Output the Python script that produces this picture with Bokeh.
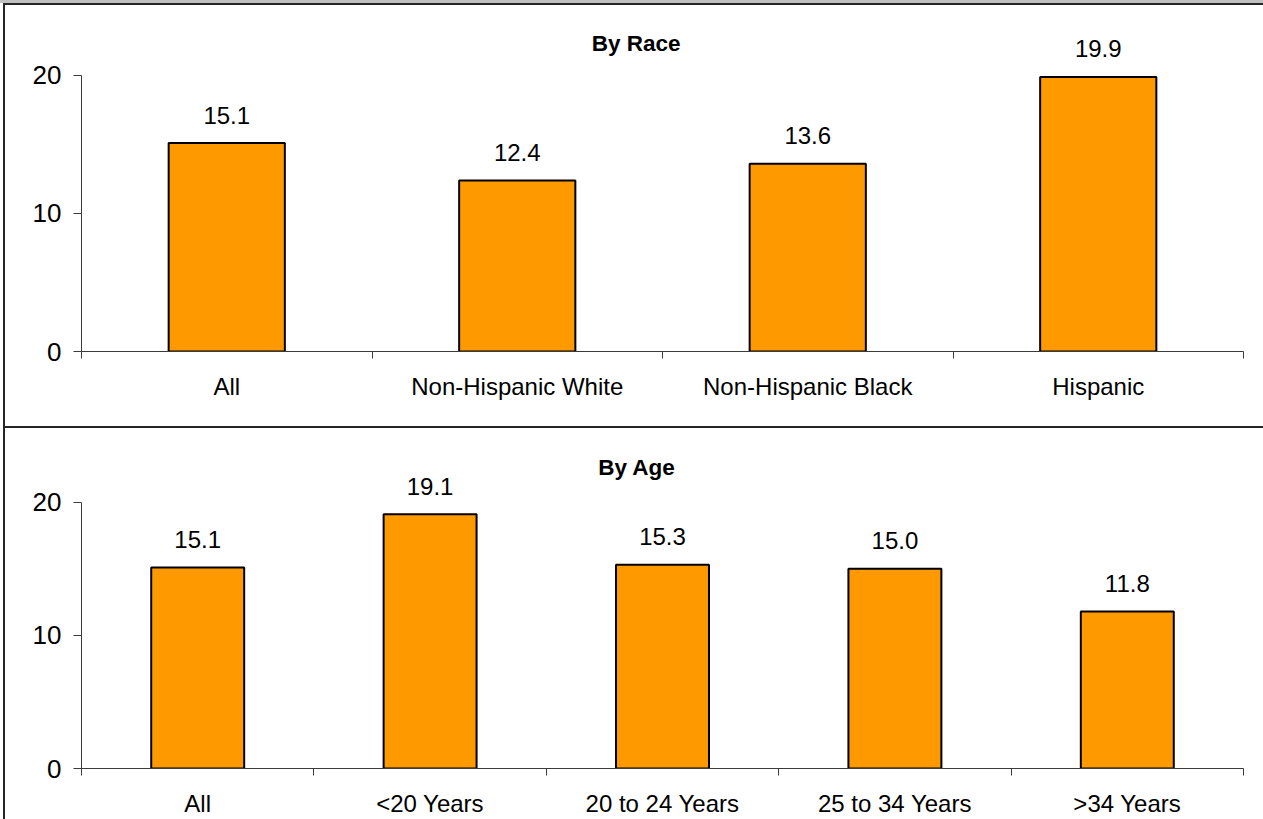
from bokeh.plotting import figure
from bokeh.models import Range1d, FixedTicker, ColumnDataSource, Label, Spacer
from bokeh.layouts import column, row
from bokeh.embed import file_html
from bokeh.resources import INLINE
from bokeh.core.properties import value

# ---- data ----
race_title = "By Race"
race_categories = ["All", "Non-Hispanic White", "Non-Hispanic Black", "Hispanic"]
race_values = [15.1, 12.4, 13.6, 19.9]

age_title = "By Age"
age_categories = ["All", "<20 Years", "20 to 24 Years", "25 to 34 Years", ">34 Years"]
age_values = [15.1, 19.1, 15.3, 15.0, 11.8]

y_ticks = [0, 10, 20]

FONT = "Liberation Sans"
BAR_COLOR = "#FF9900"
AXIS_COLOR = "#3a3a3a"
BORDER_COLOR = "#262626"
BAND_COLOR = "#c0c0c0"
FIG_W = 1258


def make_panel(title, cats, vals, height, b_top, b_bottom, y_end, title_x, title_y):
    n = len(cats)
    centers = [i + 0.5 for i in range(n)]
    src = ColumnDataSource(dict(x=centers, top=vals, label=[f"{v:.1f}" for v in vals]))
    p = figure(width=FIG_W, height=height, x_range=Range1d(0, n), y_range=Range1d(0, y_end),
               output_backend="svg", toolbar_location=None,
               min_border_left=76, min_border_right=20,
               min_border_top=b_top, min_border_bottom=b_bottom)
    p.outline_line_color = None
    p.grid.visible = False
    p.background_fill_color = "white"
    p.border_fill_color = "white"

    p.vbar(x="x", top="top", width=0.4, source=src,
           fill_color=BAR_COLOR, line_color="black", line_width=2)
    p.text(x="x", y="top", text="label", source=src, text_align="center",
           text_baseline="middle", y_offset=-28, text_font=value(FONT),
           text_font_size="24px", text_color="black")

    ya = p.yaxis[0]
    ya.ticker = FixedTicker(ticks=y_ticks)
    ya.bounds = (min(y_ticks), max(y_ticks))
    ya.axis_line_color = AXIS_COLOR
    ya.major_tick_line_color = AXIS_COLOR
    ya.major_tick_out = 8
    ya.major_tick_in = 0
    ya.minor_tick_out = 0
    ya.minor_tick_in = 0
    ya.major_label_standoff = 12
    ya.major_label_text_font = FONT
    ya.major_label_text_font_size = "26px"
    ya.major_label_text_color = "black"

    xa = p.xaxis[0]
    xa.ticker = FixedTicker(ticks=centers, minor_ticks=list(range(n + 1)))
    xa.major_label_overrides = {c: cat for c, cat in zip(centers, cats)}
    xa.axis_line_color = AXIS_COLOR
    xa.major_tick_out = 0
    xa.major_tick_in = 0
    xa.minor_tick_line_color = AXIS_COLOR
    xa.minor_tick_out = 7
    xa.minor_tick_in = 0
    xa.major_label_standoff = 14
    xa.major_label_text_font = FONT
    xa.major_label_text_font_size = "24px"
    xa.major_label_text_color = "black"

    p.add_layout(Label(x=title_x, y=title_y, text=title, text_font=FONT,
                       text_font_style="bold", text_font_size="22.5px",
                       text_align="center", text_baseline="middle", text_color="black"))
    return p


p1 = make_panel(race_title, race_categories, race_values, 421, 13, 75, 24.13, 1.909, 22.32)
p2 = make_panel(age_title, age_categories, age_values, 391, 12, 50, 24.644, 2.39, 22.58)

divider = Spacer(width=FIG_W, height=2, styles={"background-color": BORDER_COLOR})

panels = column(p1, divider, p2, spacing=0,
                styles={"border-left": f"2px solid {BORDER_COLOR}",
                        "border-top": f"2px solid {BORDER_COLOR}"})

band = Spacer(width=1263, height=3, styles={"background-color": BAND_COLOR})
layout = column(band, row(Spacer(width=3, height=816), panels, spacing=0), spacing=0)

open("out.html", "w").write(file_html(layout, INLINE))
